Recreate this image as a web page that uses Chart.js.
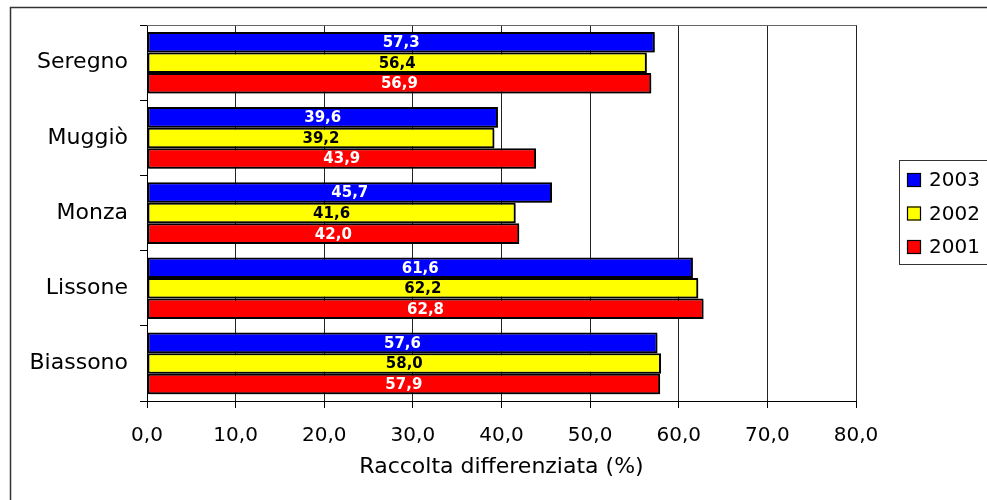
<!DOCTYPE html>
<html>
<head>
<meta charset="utf-8">
<script src="https://cdn.jsdelivr.net/npm/chart.js@4/dist/chart.umd.min.js"></script>
<style>
  html, body { margin: 0; padding: 0; background: #fff; }
  #wrap { position: relative; width: 987px; height: 500px; }
</style>
</head>
<body>
<div id="wrap"><canvas id="grafico" width="987" height="500"></canvas></div>
<script>
// Dati
const comuni = ['Seregno', 'Muggiò', 'Monza', 'Lissone', 'Biassono'];
const anni = ['2003', '2002', '2001'];
const valori2003 = [57.3, 39.6, 45.7, 61.6, 57.6];
const valori2002 = [56.4, 39.2, 41.6, 62.2, 58.0];
const valori2001 = [56.9, 43.9, 42.0, 62.8, 57.9];
const colori = ['#0000ff', '#ffff00', '#ff0000'];
const coloriEtichette = ['#ffffff', '#000000', '#ffffff'];

Chart.defaults.font.family = "'DejaVu Sans', Verdana, sans-serif";
Chart.defaults.color = '#000';

const fmt = v => v.toFixed(1).replace('.', ',');

// ombra leggera sotto le barre + etichette dentro le barre
const etichettePlugin = {
    id: 'etichette',
    beforeDatasetsDraw(chart) {
        const ctx = chart.ctx;
        ctx.save();
        ctx.shadowColor = 'rgba(0, 0, 0, 0.35)';
        ctx.shadowOffsetX = 2;
        ctx.shadowOffsetY = 2;
        ctx.shadowBlur = 0;
    },
    afterDatasetsDraw(chart) {
        const ctx = chart.ctx;
        ctx.restore();
        ctx.save();
        ctx.font = "bold 15px 'DejaVu Sans'";
        ctx.textAlign = 'center';
        ctx.textBaseline = 'middle';
        chart.data.datasets.forEach((ds, i) => {
            chart.getDatasetMeta(i).data.forEach((bar, j) => {
                ctx.fillStyle = coloriEtichette[i];
                ctx.fillText(fmt(ds.data[j]), (bar.x + bar.base) / 2, bar.y + 1);
            });
        });
        ctx.restore();
    }
};

// cornice esterna, bordo superiore e legenda
const cornicePlugin = {
    id: 'cornice',
    afterDraw(chart) {
        const ctx = chart.ctx;
        const area = chart.chartArea;
        ctx.save();
        ctx.strokeStyle = '#333';
        ctx.lineWidth = 1.5;
        ctx.beginPath();
        ctx.moveTo(10.5, 500);
        ctx.lineTo(10.5, 7.5);
        ctx.lineTo(987, 7.5);
        ctx.stroke();

        ctx.strokeStyle = '#666';
        ctx.lineWidth = 1;
        ctx.beginPath();
        ctx.moveTo(area.left, Math.round(area.top) + 0.5);
        ctx.lineTo(area.right, Math.round(area.top) + 0.5);
        ctx.stroke();

        // legenda
        ctx.strokeStyle = '#333';
        ctx.strokeRect(899.5, 160.5, 100, 104);
        ctx.font = "20px 'DejaVu Sans'";
        ctx.textAlign = 'left';
        ctx.textBaseline = 'middle';
        const righe = [180, 213.5, 247];
        chart.data.datasets.forEach((ds, i) => {
            const y = righe[i];
            ctx.fillStyle = ds.backgroundColor;
            ctx.fillRect(907, y - 7, 14, 14);
            ctx.strokeStyle = '#000';
            ctx.lineWidth = 1.2;
            ctx.strokeRect(907.5, y - 6.5, 13, 13);
            ctx.fillStyle = '#000';
            ctx.fillText(ds.label, 929, y + 1);
        });
        ctx.restore();
    }
};

new Chart(document.getElementById('grafico').getContext('2d'), {
    type: 'bar',
    data: {
        labels: comuni,
        datasets: [valori2003, valori2002, valori2001].map((dati, i) => ({
            label: anni[i],
            data: dati,
            backgroundColor: colori[i],
            borderColor: '#000',
            borderWidth: 2,
            borderSkipped: false,
            categoryPercentage: 0.82,
            barPercentage: 1.0
        }))
    },
    options: {
        indexAxis: 'y',
        responsive: false,
        animation: { duration: 0 },
        layout: { padding: { left: 0, top: 24, right: 131, bottom: 0 } },
        scales: {
            x: {
                min: 0,
                max: 80,
                ticks: {
                    stepSize: 10,
                    padding: 16,
                    color: '#000',
                    font: { size: 20 },
                    callback: v => fmt(v)
                },
                grid: { color: '#222', lineWidth: 1, tickLength: 7, tickColor: '#000' },
                border: { color: '#000', width: 1 },
                title: {
                    display: true,
                    text: 'Raccolta differenziata (%)',
                    color: '#000',
                    font: { size: 22 },
                    padding: { top: 0, bottom: 20 }
                },
                afterFit(scale) { scale.height = 99; }
            },
            y: {
                ticks: { padding: 12, color: '#000', font: { size: 22 } },
                grid: { offset: true, drawOnChartArea: false, tickLength: 7, color: '#000' },
                border: { color: '#000', width: 1 },
                afterFit(scale) { scale.width = 147; }
            }
        },
        plugins: {
            legend: { display: false },
            tooltip: { enabled: false }
        }
    },
    plugins: [etichettePlugin, cornicePlugin]
});
</script>
</body>
</html>
